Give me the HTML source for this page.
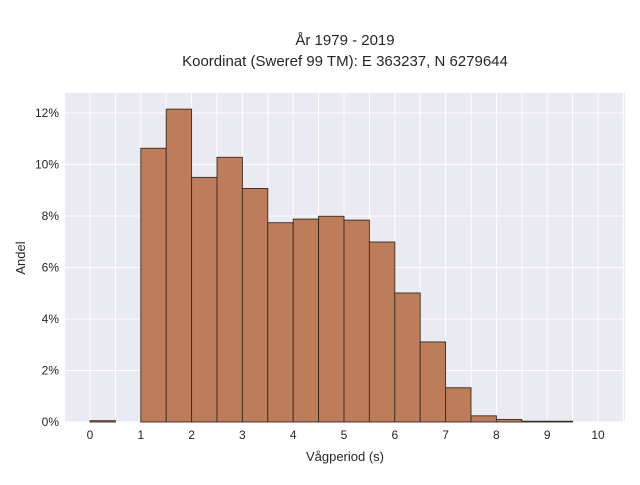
<!DOCTYPE html>
<html><head><meta charset="utf-8"><style>
body{margin:0;background:#fff;}
text{font-family:"Liberation Sans",sans-serif;fill:#262626;}
</style></head><body>
<svg id="chart" width="640" height="480" xmlns="http://www.w3.org/2000/svg">
<text x="345" y="45" text-anchor="middle" font-size="15">År 1979 - 2019</text>
<text x="345" y="66" text-anchor="middle" font-size="15">Koordinat (Sweref 99 TM): E 363237, N 6279644</text>
<rect x="64" y="93" width="561" height="329" fill="#eaeaf2"/>
<g id="grid"></g><g id="bars"></g><g id="ticks"></g>
<text x="345" y="461" text-anchor="middle" font-size="13">Vågperiod (s)</text>
<text transform="translate(25,258) rotate(-90)" text-anchor="middle" font-size="13">Andel</text>
</svg>
<script>
const binStarts=[0,0.5,1,1.5,2,2.5,3,3.5,4,4.5,5,5.5,6,6.5,7,7.5,8,8.5,9,9.5];
const shares=[0.05,0,10.63,12.15,9.5,10.28,9.07,7.74,7.88,7.99,7.84,6.99,5.01,3.11,1.33,0.24,0.1,0.03,0.03,0];
const xTicks=[0,1,2,3,4,5,6,7,8,9,10];
const yTicks=[0,2,4,6,8,10,12];
const binWidth=0.5;
const NS="http://www.w3.org/2000/svg";
const x=v=>90+v*50.8, y=v=>422-v*25.75;
const grid=document.getElementById('grid'),bars=document.getElementById('bars'),ticks=document.getElementById('ticks');
function mk(tag,attrs,parent){const e=document.createElementNS(NS,tag);for(const k in attrs)e.setAttribute(k,attrs[k]);parent.appendChild(e);return e;}
for(let v=-0.5;v<=10.5;v+=0.5){const l=mk('line',{x1:x(v),x2:x(v),y1:93,y2:422,stroke:'#fff','stroke-width':1},grid);

}
yTicks.forEach(t=>{const l=mk('line',{x1:64,x2:625,y1:y(t),y2:y(t),stroke:'#fff','stroke-width':1},grid);


const tx=mk('text',{x:59,y:y(t)+4,'text-anchor':'end','font-size':12},ticks);tx.textContent=t+'%';

});
xTicks.forEach(t=>{const tx=mk('text',{x:x(t),y:439,'text-anchor':'middle','font-size':12},ticks);tx.textContent=t;

});
binStarts.forEach((b,i)=>{if(shares[i]<=0)return;const r=mk('rect',{x:x(b),y:y(shares[i]),width:x(b+binWidth)-x(b),height:y(0)-y(shares[i]),fill:'#bd7c5a',stroke:'#3a2a22','stroke-width':0.9},bars);

});
</script>
</body></html>
